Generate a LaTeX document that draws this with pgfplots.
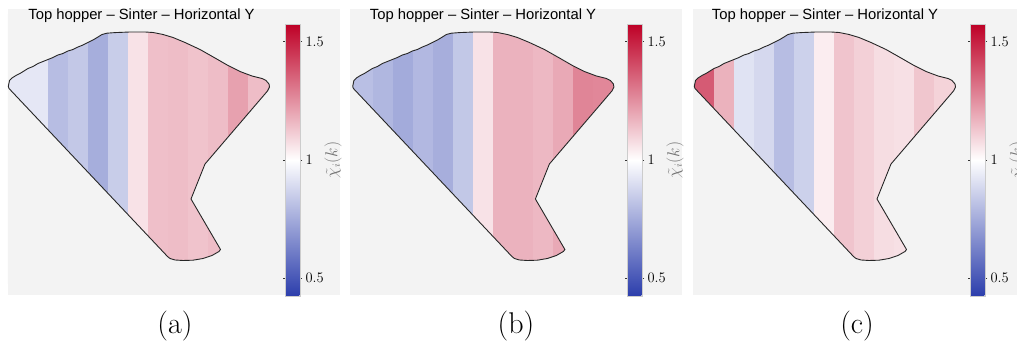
\documentclass[border=0pt]{standalone}
\usepackage{pgfplots}
\pgfplotsset{compat=1.18}
\usepackage{pgfplotstable}
\usepackage{fontspec}
\newfontfamily\titlefont{Liberation Sans}
\definecolor{panelgray}{gray}{0.953}

% Outline of the hopper section (rows 0-52), followed by a frame (rows 53-58)
% used to mask everything outside the outline with the panel colour.
\pgfplotstableread{
x y
0 257.5
1.2 263.5
3.7 266
7.7 268.5
11.7 270.5
15.7 273
19.7 275.5
24.7 277.5
29.7 280.5
34.7 282.5
39.7 284.5
44.7 286.5
49.7 289
54.7 290.5
59.7 293
64.7 294.5
69.7 297
74.7 299
79.7 301.5
84.7 304
89.7 307
93.7 309.5
98.7 310.8
106.7 311.4
121.7 312
136.7 312
144.7 311.5
154.7 309.5
164.7 306.5
176.7 301.5
191.7 294.5
206.7 286
219.7 278.5
231.7 272.5
243.7 268
253.7 265.5
257.7 263.5
260.7 260
261.2 257
259.2 253
196.7 180
182.7 145
212.2 94.5
210.7 92.5
203.7 88.5
194.7 85.5
184.7 83.8
174.7 83.5
166.7 84
161.7 85.5
159.2 87.5
0.7 255.5
0 257.5
-0.3 60
272 60
272 330
-0.3 330
-0.3 60
0 257.5
}\hopper

% Vertical bands: four corners per band, chi value of the band in column v
\pgfplotstableread{
x y v
0 70 0.93
20 70 0.93
20 320 0.93
0 320 0.93
20 70 0.93
40 70 0.93
40 320 0.93
20 320 0.93
40 70 0.805
60 70 0.805
60 320 0.805
40 320 0.805
60 70 0.836
80 70 0.836
80 320 0.836
60 320 0.836
80 70 0.758
100 70 0.758
100 320 0.758
80 320 0.758
100 70 0.85
120 70 0.85
120 320 0.85
100 320 0.85
120 70 1.065
140 70 1.065
140 320 1.065
120 320 1.065
140 70 1.144
160 70 1.144
160 320 1.144
140 320 1.144
160 70 1.15
180 70 1.15
180 320 1.15
160 320 1.15
180 70 1.135
200 70 1.135
200 320 1.135
180 320 1.135
200 70 1.15
220 70 1.15
220 320 1.15
200 320 1.15
220 70 1.213
240 70 1.213
240 320 1.213
220 320 1.213
240 70 1.15
263 70 1.15
263 320 1.15
240 320 1.15
}\chiA

\pgfplotstableread{
x y v
0 70 0.81
20 70 0.81
20 320 0.81
0 320 0.81
20 70 0.785
40 70 0.785
40 320 0.785
20 320 0.785
40 70 0.75
60 70 0.75
60 320 0.75
40 320 0.75
60 70 0.79
80 70 0.79
80 320 0.79
60 320 0.79
80 70 0.76
100 70 0.76
100 320 0.76
80 320 0.76
100 70 0.835
120 70 0.835
120 320 0.835
100 320 0.835
120 70 1.065
140 70 1.065
140 320 1.065
120 320 1.065
140 70 1.173
160 70 1.173
160 320 1.173
140 320 1.173
160 70 1.173
180 70 1.173
180 320 1.173
160 320 1.173
180 70 1.16
200 70 1.16
200 320 1.16
180 320 1.16
200 70 1.195
220 70 1.195
220 320 1.195
200 320 1.195
220 70 1.276
240 70 1.276
240 320 1.276
220 320 1.276
240 70 1.27
263 70 1.27
263 320 1.27
240 320 1.27
}\chiB

\pgfplotstableread{
x y v
0 70 1.37
20 70 1.37
20 320 1.37
0 320 1.37
20 70 1.175
40 70 1.175
40 320 1.175
20 320 1.175
40 70 0.917
60 70 0.917
60 320 0.917
40 320 0.917
60 70 0.885
80 70 0.885
80 320 0.885
60 320 0.885
80 70 0.805
100 70 0.805
100 320 0.805
80 320 0.805
100 70 0.862
120 70 0.862
120 320 0.862
100 320 0.862
120 70 1.04
140 70 1.04
140 320 1.04
120 320 1.04
140 70 1.133
160 70 1.133
160 320 1.133
140 320 1.133
160 70 1.106
180 70 1.106
180 320 1.106
160 320 1.106
180 70 1.077
200 70 1.077
200 320 1.077
180 320 1.077
200 70 1.07
220 70 1.07
220 320 1.07
200 320 1.07
220 70 1.13
240 70 1.13
240 320 1.13
220 320 1.13
240 70 1.10
263 70 1.10
263 320 1.10
240 320 1.10
}\chiC

\pgfplotsset{
  hopperpanel/.style={
    x=1pt, y=1pt,
    ymin=49, ymax=335,
    xtick=\empty, ytick=\empty,
    axis line style={draw=none},
    axis background/.style={fill=panelgray},
    colormap={bwr}{rgb255=(44,62,172) rgb255=(255,255,255) rgb255=(190,0,38)},
    point meta min=0.425, point meta max=1.575,
    colorbar,
    colorbar style={
      at={(parent axis.south west)}, anchor=south west,
      xshift=268.5pt, yshift=-1pt,
      scale only axis, width=15pt, height=272pt,
      ytick={0.5,1,1.5},
      yticklabels={0.5,1,1.5},
      yticklabel pos=right,
      yticklabel style={font=\fontsize{14.5}{14.5}\selectfont},
      major tick length=2pt,
      tick align=outside,
      tick style={black!80, line width=0.5pt},
      axis line style={draw=black!20, line width=0.3pt},
      ylabel={$\tilde{\chi}_i(k)$},
      every axis y label/.style={at={(axis description cs:3.2,0.5)},
        anchor=center, rotate=90,
        font=\fontsize{16}{16}\selectfont, text=black!55},
    },
  },
  bandfill/.style={patch, patch type=rectangle, shader=flat, point meta=explicit},
}

\newcommand\hopperpanel[4]{%
  \begin{axis}[hopperpanel, at={(#1,49)}, anchor=south west, xmin=#2, xmax=#3]
    \addplot[bandfill] table[x=x, y=y, meta=v] {#4};
    \addplot[fill=panelgray, draw=none, even odd rule] table {\hopper};
    \addplot[draw=black!85, line width=0.9pt, line join=round,
             skip coords between index={53}{59}] table {\hopper};
  \end{axis}}

\begin{document}
\begin{tikzpicture}[x=1pt, y=1pt]
  \useasboundingbox (0,0) rectangle (1017,344);

  \hopperpanel{8}{-0.3}{331.7}{\chiA}
  \hopperpanel{350}{-2.7}{329.3}{\chiB}
  \hopperpanel{693}{-1.3}{330.7}{\chiC}

  \foreach \cx in {141.5, 483, 825}
    \node[anchor=base, inner sep=0pt, font=\titlefont\fontsize{14.8}{17}\selectfont]
      at (\cx, 324) {Top hopper – Sinter – Horizontal Y};

  \node[anchor=base, inner sep=0pt, font=\fontsize{30}{36}\selectfont] at (175, 10) {(a)};
  \node[anchor=base, inner sep=0pt, font=\fontsize{30}{36}\selectfont] at (516, 10) {(b)};
  \node[anchor=base, inner sep=0pt, font=\fontsize{30}{36}\selectfont] at (857, 10) {(c)};
\end{tikzpicture}
\end{document}
